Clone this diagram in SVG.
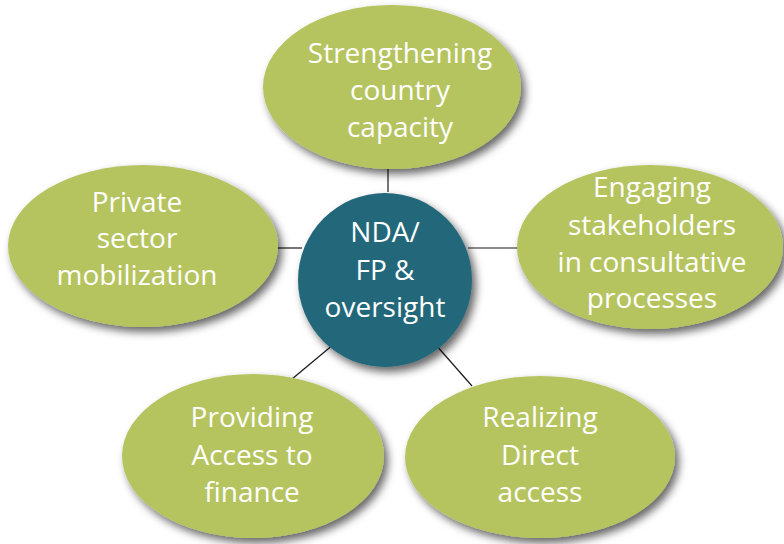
<svg xmlns="http://www.w3.org/2000/svg" width="784" height="544" viewBox="0 0 784 544">
<defs>
<filter id="sh" x="-20%" y="-20%" width="150%" height="150%">
<feDropShadow dx="4" dy="5" stdDeviation="4" flood-color="#000" flood-opacity="0.6"/>
</filter>
<style>
.g{fill:#B5C45F;filter:url(#sh)}
.c{fill:#24677A;filter:url(#sh)}
.t{font-family:"Open Sans","Noto Sans",sans-serif;font-size:28px;fill:#fff;text-anchor:middle}
.l{stroke:#1a1a1a;stroke-width:1.2;fill:none}
</style>
</defs>
<rect width="784" height="544" fill="#fff"/>
<g id="connectors">
<line class="l" x1="388" y1="165" x2="388" y2="192"/>
<line class="l" x1="275" y1="248" x2="302" y2="248"/>
<line class="l" x1="468" y1="248" x2="520" y2="248"/>
<line class="l" x1="292" y1="379" x2="334" y2="344"/>
<line class="l" x1="472" y1="386" x2="436" y2="345"/>
</g>
<g id="top">
<ellipse class="g" cx="392" cy="87" rx="129" ry="82"/>
<text class="t" x="400" y="63">Strengthening</text>
<text class="t" x="400" y="100">country</text>
<text class="t" x="400" y="137">capacity</text>
</g>
<g id="left">
<ellipse class="g" cx="143" cy="246" rx="135" ry="81"/>
<text class="t" x="137" y="212">Private</text>
<text class="t" x="137" y="248">sector</text>
<text class="t" x="137" y="285">mobilization</text>
</g>
<g id="right">
<ellipse class="g" cx="650" cy="247" rx="133" ry="82"/>
<text class="t" x="652" y="197">Engaging</text>
<text class="t" x="652" y="235">stakeholders</text>
<text class="t" x="652" y="272">in consultative</text>
<text class="t" x="652" y="308">processes</text>
</g>
<g id="bottomleft">
<ellipse class="g" cx="253" cy="456" rx="131" ry="82"/>
<text class="t" x="252" y="427">Providing</text>
<text class="t" x="252" y="465">Access to</text>
<text class="t" x="252" y="502">finance</text>
</g>
<g id="bottomright">
<ellipse class="g" cx="540" cy="457" rx="135" ry="81"/>
<text class="t" x="540" y="427">Realizing</text>
<text class="t" x="540" y="465">Direct</text>
<text class="t" x="540" y="502">access</text>
</g>
<g id="center">
<circle class="c" cx="385" cy="280" r="87"/>
<text class="t" x="385" y="242">NDA/</text>
<text class="t" x="385" y="280">FP &amp;</text>
<text class="t" x="385" y="317">oversight</text>
</g>
</svg>
